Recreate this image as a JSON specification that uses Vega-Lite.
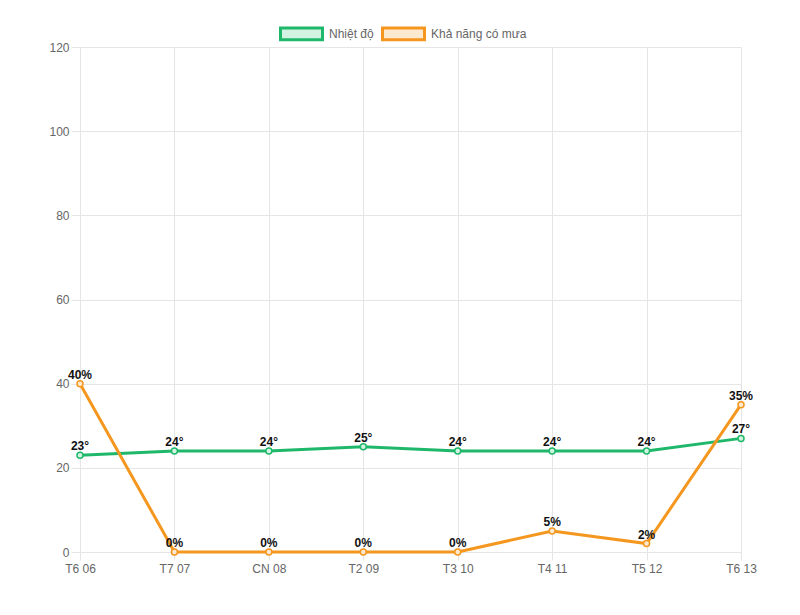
{
  "$schema": "https://vega.github.io/schema/vega-lite/v6.json",
  "autosize": {"type": "none"},
  "width": 661,
  "height": 505,
  "padding": {"left": 80, "top": 47, "right": 59, "bottom": 63},
  "background": "#ffffff",
  "config": {
    "view": {"stroke": null},
    "font": "Liberation Sans",
    "axis": {
      "gridColor": "#e5e5e5",
      "tickColor": "#e5e5e5",
      "domain": false,
      "labelColor": "#666666",
      "labelFontSize": 12,
      "labelFont": "Liberation Sans",
      "title": null
    }
  },
  "data": {
    "values": [
      {"ngay": "T6 06", "loai": "Nhiệt độ", "gia_tri": 23, "nhan": "23°"},
      {"ngay": "T7 07", "loai": "Nhiệt độ", "gia_tri": 24, "nhan": "24°"},
      {"ngay": "CN 08", "loai": "Nhiệt độ", "gia_tri": 24, "nhan": "24°"},
      {"ngay": "T2 09", "loai": "Nhiệt độ", "gia_tri": 25, "nhan": "25°"},
      {"ngay": "T3 10", "loai": "Nhiệt độ", "gia_tri": 24, "nhan": "24°"},
      {"ngay": "T4 11", "loai": "Nhiệt độ", "gia_tri": 24, "nhan": "24°"},
      {"ngay": "T5 12", "loai": "Nhiệt độ", "gia_tri": 24, "nhan": "24°"},
      {"ngay": "T6 13", "loai": "Nhiệt độ", "gia_tri": 27, "nhan": "27°"},
      {"ngay": "T6 06", "loai": "Khả năng có mưa", "gia_tri": 40, "nhan": "40%"},
      {"ngay": "T7 07", "loai": "Khả năng có mưa", "gia_tri": 0, "nhan": "0%"},
      {"ngay": "CN 08", "loai": "Khả năng có mưa", "gia_tri": 0, "nhan": "0%"},
      {"ngay": "T2 09", "loai": "Khả năng có mưa", "gia_tri": 0, "nhan": "0%"},
      {"ngay": "T3 10", "loai": "Khả năng có mưa", "gia_tri": 0, "nhan": "0%"},
      {"ngay": "T4 11", "loai": "Khả năng có mưa", "gia_tri": 5, "nhan": "5%"},
      {"ngay": "T5 12", "loai": "Khả năng có mưa", "gia_tri": 2, "nhan": "2%"},
      {"ngay": "T6 13", "loai": "Khả năng có mưa", "gia_tri": 35, "nhan": "35%"}
    ]
  },
  "encoding": {
    "x": {
      "field": "ngay",
      "type": "ordinal",
      "sort": null,
      "scale": {"type": "point", "padding": 0},
      "axis": {"labelAngle": 0, "tickSize": 8, "labelPadding": 3, "grid": true}
    },
    "y": {
      "field": "gia_tri",
      "type": "quantitative",
      "scale": {"domain": [0, 120], "nice": false},
      "axis": {"values": [0, 20, 40, 60, 80, 100, 120], "tickSize": 9, "labelPadding": 2}
    }
  },
  "layer": [
    {
      "mark": {"type": "line", "strokeWidth": 3},
      "encoding": {
        "color": {
          "field": "loai",
          "type": "nominal",
          "sort": ["Nhiệt độ", "Khả năng có mưa"],
          "scale": {"domain": ["Nhiệt độ", "Khả năng có mưa"], "range": ["#1fb86a", "#f5971f"]},
          "legend": {
            "orient": "none",
            "direction": "horizontal",
            "legendX": 199,
            "legendY": -36,
            "title": null,
            "symbolType": "M-1,-0.28H1V0.28H-1Z",
            "symbolSize": 1764,
            "symbolStrokeWidth": 3,
            "labelFontSize": 12,
            "labelColor": "#666666",
            "labelOffset": 5,
            "columnPadding": 2,
            "encode": {
              "symbols": {
                "update": {
                  "fill": {"signal": "datum.value === 'Nhiệt độ' ? '#d3f3e2' : '#fde9cf'"},
                  "fillOpacity": {"value": 1}
                }
              }
            }
          }
        },
        "order": {"field": "loai"}
      }
    },
    {
      "mark": {"type": "point", "filled": false, "size": 36, "strokeWidth": 1.5, "opacity": 1},
      "encoding": {
        "color": {"field": "loai", "type": "nominal", "legend": null},
        "fill": {
          "field": "loai",
          "type": "nominal",
          "scale": {"domain": ["Nhiệt độ", "Khả năng có mưa"], "range": ["#d3f3e2", "#fde9cf"]},
          "legend": null
        }
      }
    },
    {
      "mark": {"type": "text", "fontWeight": "bold", "fontSize": 12, "color": "#111111", "baseline": "bottom", "dy": -2},
      "encoding": {"text": {"field": "nhan"}}
    }
  ]
}
